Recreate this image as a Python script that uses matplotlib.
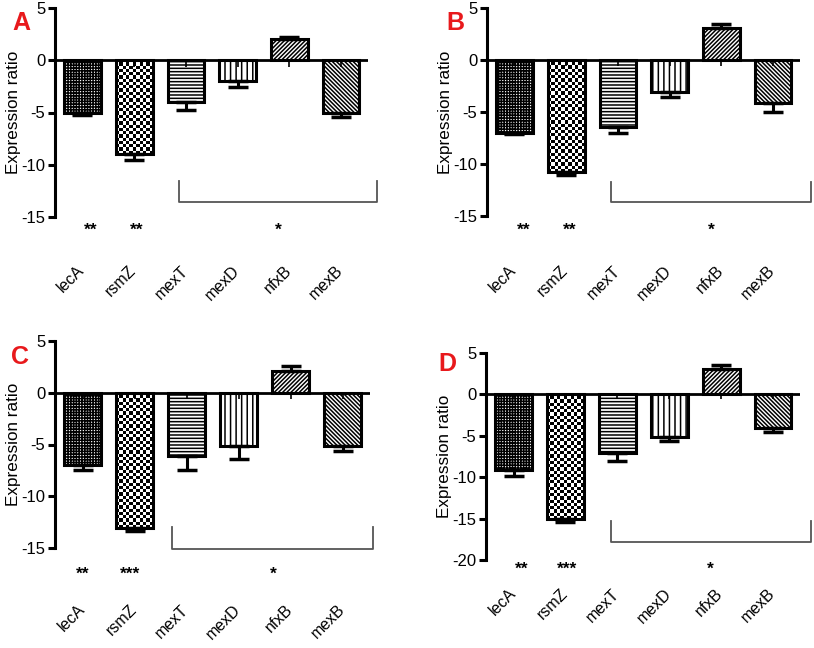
import numpy as np
import matplotlib.pyplot as plt
from matplotlib.transforms import blended_transform_factory, ScaledTranslation

plt.rcParams['font.family'] = ['Liberation Sans', 'DejaVu Sans']
plt.rcParams['hatch.linewidth'] = 1.1
plt.rcParams['axes.unicode_minus'] = False

genes = ["lecA", "rsmZ", "mexT", "mexD", "nfxB", "mexB"]

# mean expression ratio and error
means_A = [-5.0, -9.0, -4.0, -2.0, 2.0, -5.0]
errs_A = [0.2, 0.5, 0.8, 0.6, 0.2, 0.4]
means_B = [-7.0, -10.8, -6.4, -3.1, 3.1, -4.1]
errs_B = [0.15, 0.3, 0.6, 0.5, 0.4, 0.9]
means_C = [-7.0, -13.1, -6.1, -5.1, 2.1, -5.1]
errs_C = [0.5, 0.3, 1.4, 1.3, 0.5, 0.5]
means_D = [-9.1, -15.1, -7.1, -5.1, 3.1, -4.1]
errs_D = [0.8, 0.3, 1.0, 0.5, 0.5, 0.5]

stars_AB = ["**", "**", "*"]
stars_CD = ["**", "***", "*"]

W, H = 814, 648
fig = plt.figure(figsize=(W / 100, H / 100), dpi=100)

hatches = ["++++++", None, "-----", "|||", "////////", "\\" * 8]


def draw_panel(letter, means, errs, stars, x0, x1, ytop, ybot, ymin,
               bracket, star_x, star_off, lab_off, letter_xy):
    ax = fig.add_axes([x0 / W, 1 - ybot / H, (x1 - x0) / W, (ybot - ytop) / H])
    x = np.arange(len(genes))
    hpx = ybot - ytop

    bars = ax.bar(x, means, width=0.71, color="white", edgecolor="black",
                  linewidth=2.2, zorder=3)
    for b, h in zip(bars, hatches):
        if h:
            b.set_hatch(h)

    # checkerboard fill for rsmZ
    b = bars[1]
    px_per_unit = hpx / (5 - ymin)
    ny = int(abs(means[1]) * px_per_unit / 3.2)
    board = (np.add.outer(np.arange(ny), np.arange(11)) % 2).astype(float)
    im = ax.imshow(board, cmap="gray", aspect="auto", interpolation="nearest",
                   extent=(b.get_x(), b.get_x() + b.get_width(), means[1], 0),
                   zorder=2.5)
    im.set_clip_path(b)
    b.set_facecolor("none")
    ax.set_xlim(-0.53, 5.52)
    ax.set_ylim(ymin, 5)

    lower = [e if m < 0 else 0 for m, e in zip(means, errs)]
    upper = [e if m > 0 else 0 for m, e in zip(means, errs)]
    ax.errorbar(x, means, yerr=[lower, upper], fmt="none", ecolor="black",
                elinewidth=2.2, capsize=7, capthick=2.5, zorder=4)
    ax.vlines(x, -0.6, 0, color="black", linewidth=1.2, zorder=4)

    ax.axhline(0, color="black", linewidth=2.0, zorder=5)

    for s in ["top", "right", "bottom"]:
        ax.spines[s].set_visible(False)
    ax.spines["left"].set_linewidth(2.2)
    ax.set_yticks(np.arange(ymin, 6, 5))
    ax.tick_params(axis="y", length=5, width=2.2, labelsize=12, pad=2)
    ax.set_xticks(x)
    ax.set_xticklabels(genes, rotation=45, ha="right", va="top", fontsize=11.5)
    ax.tick_params(axis="x", length=0, pad=lab_off * 0.72)
    shift = ScaledTranslation(5 / 100, 0, fig.dpi_scale_trans)
    for lab in ax.get_xticklabels():
        lab.set_transform(lab.get_transform() + shift)
    ax.set_ylabel("Expression ratio", fontsize=12.3)
    ax.yaxis.set_label_coords(-34 / (x1 - x0), 0.5)

    # bracket over mexT..mexB
    bx0, bx1, by, btop = bracket
    ax.plot([bx0, bx0, bx1, bx1], [btop, by, by, btop], color="#555555",
            linewidth=1.3, clip_on=False, zorder=2)

    trans = blended_transform_factory(ax.transData, ax.transAxes)
    for sx, st in zip(star_x, stars):
        ax.text(sx, -star_off / hpx, st, transform=trans, ha="center",
                va="center", fontsize=12.5, fontweight="bold")

    fig.text(letter_xy[0] / W, 1 - letter_xy[1] / H, letter, color="#e8191c",
             fontsize=18, fontweight="bold", ha="left", va="baseline")


draw_panel("A", means_A, errs_A, stars_AB, 55, 368, 8, 217, -15,
           (1.865, 5.69, -13.56, -11.55), [0.15, 1.04, 3.79], 13, 46, (12, 30))
draw_panel("B", means_B, errs_B, stars_AB, 487, 800, 8, 216, -15,
           (1.865, 5.73, -13.65, -11.73), [0.17, 1.06, 3.81], 14, 47, (446, 30))
draw_panel("C", means_C, errs_C, stars_CD, 55, 370, 341, 548, -15,
           (1.72, 5.58, -15.1, -12.97), [0.0, 0.91, 3.67], 26, 54, (11, 364))
draw_panel("D", means_D, errs_D, stars_CD, 486, 800, 353, 560, -20,
           (1.87, 5.73, -17.8, -15.3), [0.15, 1.04, 3.79], 9, 26, (438, 371))

fig.savefig("out.png", dpi=100)
